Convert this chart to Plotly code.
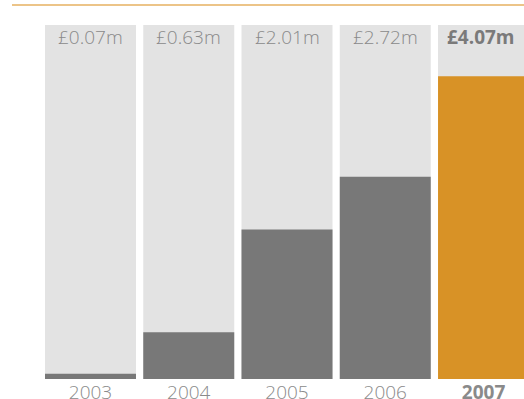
import plotly.graph_objects as go

years = ["2003", "2004", "2005", "2006", "2007"]
values = [0.07, 0.63, 2.01, 2.72, 4.07]
labels = ["£0.07m", "£0.63m", "£2.01m", "£2.72m", "£4.07m"]
bg_max = 4.76

x = list(range(len(years)))
bar_colors = ["#787878"] * 4 + ["#d89226"]

fig = go.Figure()
fig.add_trace(go.Bar(x=x, y=[bg_max] * len(years), marker=dict(color="#e3e3e3", line=dict(width=0)),
                     width=0.926, hoverinfo="skip"))
fig.add_trace(go.Bar(x=x, y=values, marker=dict(color=bar_colors, line=dict(width=0)),
                     width=0.926))

for i, lab in enumerate(labels):
    last = i == len(labels) - 1
    fig.add_annotation(x=i, y=bg_max, xref="x", yref="y", yanchor="top", yshift=3,
                       xshift=-3 if last else 0,
                       text=f"<b>{lab}</b>" if last else lab, showarrow=False,
                       font=dict(family="Open Sans", size=19, color="#7a7a7a" if last else "#8a8a8a",
                                 weight=700 if last else 300))

ticktext = [y for y in years[:-1]] + [f"<b>{years[-1]}</b>"]
fig.update_layout(
    width=524, height=399, barmode="overlay", showlegend=False,
    margin=dict(l=45, r=0, t=25, b=20, autoexpand=False),
    plot_bgcolor="white", paper_bgcolor="white",
    xaxis=dict(range=[-0.463, 4.412], tickvals=x, ticktext=ticktext, showgrid=False,
               zeroline=False, showline=False, ticks="", ticklen=0, automargin=False,
               tickfont=dict(family="Open Sans", size=19, color="#8a8a8a", weight=300)),
    yaxis=dict(range=[0, bg_max], visible=False, showgrid=False, zeroline=False, automargin=False),
    shapes=[dict(type="line", xref="paper", yref="paper", x0=-33/479, x1=1,
                 y0=1 + 20/354, y1=1 + 20/354, line=dict(color="#ecc488", width=2))],
)
fig.write_html("out.html")
